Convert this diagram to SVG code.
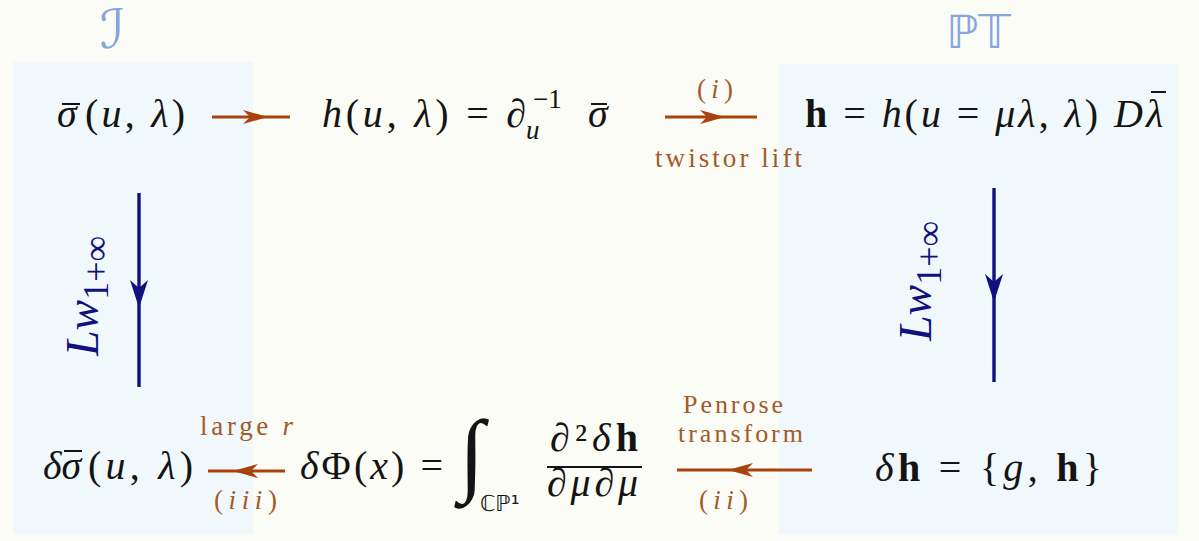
<svg xmlns="http://www.w3.org/2000/svg" width="1199" height="541" viewBox="0 0 1199 541">
<style>
.m{font-family:"Liberation Serif","DejaVu Serif",serif;font-size:40px;fill:#141414}
.i{font-style:italic}
.b{font-weight:bold;font-style:normal}
.n{font-style:normal}
.s{font-size:27px}
.bar{stroke:#141414;stroke-width:2}
.lab{font-family:"Liberation Serif","DejaVu Serif",serif;font-size:27px;fill:#a35a28}
.hd{font-family:"DejaVu Sans",sans-serif;fill:#86a6dc}
.oa{fill:none;stroke:#a8430f;stroke-width:3.2;marker-mid:url(#ho)}
.ba{fill:none;stroke:#10107e;stroke-width:3.4;marker-mid:url(#hb)}
.rl{font-family:"Liberation Serif","DejaVu Serif",serif;fill:#10107e;font-size:46px}
</style>
<defs>
<marker id="ho" markerUnits="userSpaceOnUse" markerWidth="32" markerHeight="20" viewBox="-28 -10 32 20" refX="0" refY="0" orient="auto" overflow="visible">
<path d="M0,0 L-25,-7 L-18,0 L-25,7 Z" fill="#a8430f"/>
</marker>
<marker id="hb" markerUnits="userSpaceOnUse" markerWidth="34" markerHeight="22" viewBox="-30 -11 34 22" refX="0" refY="0" orient="auto" overflow="visible">
<path d="M0,0 L-28,-9 L-20,0 L-28,9 Z" fill="#10107e"/>
</marker>
</defs>
<rect x="0" y="0" width="1199" height="541" fill="#fcfcf6"/>
<rect x="13" y="62" width="240" height="472" fill="#f1f8fc"/>
<rect x="779" y="64" width="399" height="470" fill="#f1f8fc"/>

<g id="header-scri"><text class="hd" x="100" y="48" style="font-size:54px;font-style:italic">ℐ</text></g>
<g id="header-pt"><text class="hd" x="946" y="48" style="font-size:46px">ℙ𝕋</text></g>

<g id="sigma-bar">
<text class="m i" x="57" y="127">σ</text>
<line class="bar" x1="62" y1="104" x2="80" y2="104"/>
<text class="m" x="85" y="127" textLength="100"><tspan class="n">(</tspan><tspan class="i">u</tspan><tspan class="n">, </tspan><tspan class="i">λ</tspan><tspan class="n">)</tspan></text>
</g>

<g id="h-def">
<text class="m" x="322" y="127" textLength="204"><tspan class="i">h</tspan><tspan class="n">(</tspan><tspan class="i">u</tspan><tspan class="n">, </tspan><tspan class="i">λ</tspan><tspan class="n">) = </tspan><tspan class="i">∂</tspan></text>
<text class="m s" x="533" y="108">−1</text>
<text class="m s i" x="526" y="139">u</text>
<text class="m i" x="588" y="127">σ</text>
<line class="bar" x1="591" y1="104" x2="607" y2="104"/>
</g>

<g id="bold-h">
<text class="m" x="805" y="127" textLength="338"><tspan class="b">h</tspan><tspan class="n"> = </tspan><tspan class="i">h</tspan><tspan class="n">(</tspan><tspan class="i">u</tspan><tspan class="n"> = </tspan><tspan class="i">μλ</tspan><tspan class="n">, </tspan><tspan class="i">λ</tspan><tspan class="n">) </tspan><tspan class="i">D</tspan></text>
<text class="m i" x="1146" y="127">λ</text>
<line class="bar" x1="1151" y1="92" x2="1166" y2="92"/>
</g>

<g id="delta-sigma">
<text class="m i" x="43" y="479">δσ</text>
<line class="bar" x1="64" y1="451" x2="82" y2="451"/>
<text class="m" x="88" y="479" textLength="105"><tspan class="n">(</tspan><tspan class="i">u</tspan><tspan class="n">, </tspan><tspan class="i">λ</tspan><tspan class="n">)</tspan></text>
</g>

<g id="delta-phi">
<text class="m" x="300" y="479" textLength="143"><tspan class="i">δ</tspan><tspan class="n">Φ(</tspan><tspan class="i">x</tspan><tspan class="n">) =</tspan></text>
<text class="m n" x="459" y="484" style="font-size:92px">∫</text>
<text class="m n" x="480" y="511" style="font-size:22px;font-family:'DejaVu Sans',sans-serif">ℂℙ¹</text>
<text class="m" x="550" y="451" textLength="88"><tspan class="i">∂</tspan><tspan class="n">²</tspan><tspan class="i">δ</tspan><tspan class="b">h</tspan></text>
<line x1="547" y1="467" x2="642" y2="467" stroke="#141414" stroke-width="2"/>
<text class="m i" x="547" y="496" textLength="91">∂μ∂μ</text>
</g>

<g id="delta-h"><text class="m" x="875" y="481" textLength="227"><tspan class="i">δ</tspan><tspan class="b">h</tspan><tspan class="n"> = {</tspan><tspan class="i">g</tspan><tspan class="n">, </tspan><tspan class="b">h</tspan><tspan class="n">}</tspan></text></g>

<g id="connectors">
<path class="oa" d="M212,117 L268,117 L290,117"/>
<path class="oa" d="M665,117 L725,117 L757,117"/>
<text class="lab" x="697" y="98" textLength="36"><tspan>(</tspan><tspan class="i">i</tspan><tspan>)</tspan></text>
<text class="lab" x="655" y="167" textLength="147">twistor lift</text>

<path class="ba" d="M139,193 L139,308 L139,387"/>
<g transform="translate(98,356) rotate(-90)"><text class="rl" x="0" y="0"><tspan class="i">Lw</tspan><tspan class="n" style="font-size:36px" dy="10">1+∞</tspan></text></g>

<path class="ba" d="M994,188 L994,302 L994,382"/>
<g transform="translate(931,341) rotate(-90)"><text class="rl" x="0" y="0"><tspan class="i">Lw</tspan><tspan class="n" style="font-size:36px" dy="10">1+∞</tspan></text></g>

<path class="oa" d="M285,471 L233,471 L208,471"/>
<text class="lab" x="200" y="435" textLength="93">large <tspan class="i">r</tspan></text>
<text class="lab" x="214" y="509" textLength="63"><tspan>(</tspan><tspan class="i">iii</tspan><tspan>)</tspan></text>

<path class="oa" d="M812,470 L728,470 L677,470"/>
<text class="lab" x="683" y="413" style="font-size:26px" textLength="100">Penrose</text>
<text class="lab" x="678" y="442" style="font-size:26px" textLength="125">transform</text>
<text class="lab" x="699" y="509" textLength="49"><tspan>(</tspan><tspan class="i">ii</tspan><tspan>)</tspan></text>
</g>
</svg>
